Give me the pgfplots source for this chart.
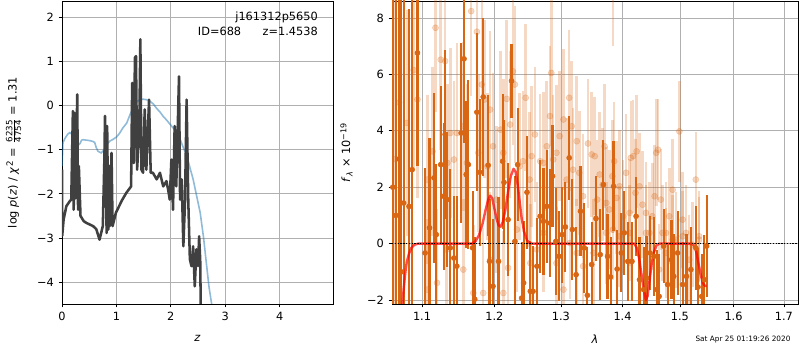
\documentclass[border=0pt]{standalone}
\usepackage{pgfplots}
\pgfplotsset{compat=1.18}
\usepackage{pgfplotstable}
\usepackage{fontspec}
\setmainfont{DejaVu Sans}
\definecolor{dorange}{RGB}{217,102,18}
\definecolor{gridgray}{RGB}{176,176,176}
\definecolor{mplblue}{RGB}{31,119,180}
\definecolor{dgray}{RGB}{64,64,64}

\pgfplotstableread{
z p
0.000 -1.45
0.004 -2.95
0.03 -2.58
0.08 -2.28
0.14 -2.17
0.17 -2.13
0.20 -0.12
0.215 -2.36
0.23 -0.16
0.25 -2.10
0.28 0.26
0.295 -2.36
0.31 -1.37
0.34 -2.50
0.40 -2.62
0.45 -2.66
0.57 -2.73
0.63 -2.80
0.69 -3.04
0.75 -2.73
0.78 -1.14
0.79 -0.23
0.82 -2.89
0.83 -0.46
0.85 -2.81
0.87 -1.37
0.88 -2.73
0.91 -1.07
0.93 -2.73
0.99 -2.43
1.10 -2.15
1.18 -1.98
1.27 -1.83
1.29 0.52
1.32 -1.30
1.34 1.09
1.36 1.13
1.38 -1.45
1.42 -0.54
1.44 1.51
1.46 -1.45
1.49 -1.52
1.52 -0.08
1.55 -1.45
1.60 0.14
1.63 -1.52
1.67 -1.52
1.74 -1.67
1.80 -1.52
1.86 -1.83
1.92 -1.71
1.95 -1.90
1.98 -2.13
2.01 -1.22
2.04 -2.36
2.07 -0.46
2.10 -1.83
2.15 0.67
2.17 -2.13
2.20 -1.67
2.23 -3.19
2.26 -2.20
2.29 0.14
2.32 -2.13
2.35 -3.49
2.38 -3.64
2.41 -3.19
2.44 -4.10
2.47 -3.26
2.50 -3.64
2.52 -2.96
2.54 -3.50
2.55 -4.60
}\pzdata

\pgfplotstableread{
z p
0.000 -1.37
0.018 -0.84
0.05 -0.75
0.08 -0.69
0.11 -0.64
0.14 -0.61
0.17 -0.63
0.20 -0.69
0.23 -0.80
0.26 -0.88
0.29 -0.90
0.33 -0.86
0.36 -0.78
0.39 -0.77
0.45 -0.78
0.51 -0.79
0.57 -0.81
0.60 -0.83
0.63 -0.95
0.66 -1.03
0.69 -1.05
0.72 -1.07
0.76 -1.02
0.79 -0.95
0.84 -0.85
0.88 -0.80
0.94 -0.76
1.00 -0.71
1.06 -0.62
1.12 -0.50
1.19 -0.39
1.25 -0.20
1.31 -0.04
1.37 0.09
1.43 0.14
1.49 0.15
1.55 0.14
1.61 0.11
1.68 0.04
1.74 -0.06
1.80 -0.14
1.86 -0.24
1.92 -0.32
1.98 -0.41
2.04 -0.50
2.10 -0.58
2.17 -0.76
2.23 -0.95
2.29 -1.12
2.35 -1.40
2.41 -1.67
2.47 -2.02
2.54 -2.43
2.60 -2.98
2.66 -3.65
2.70 -4.10
2.75 -4.50
2.77 -4.80
}\bluedata

\pgfplotstableread{
x y e
1.062 2.0 12
1.066 1.0 9
1.070 3.0 8
1.073 -1.0 10
1.076 1.44 8
1.083 1.32 7
1.087 2.62 8
1.094 6.76 4
1.104 -0.33 3.0
1.110 0.56 3.2
1.116 2.33 3.0
1.119 0.32 2.5
1.125 2.80 2.8
1.129 1.68 2.6
1.131 3.87 3.0
1.134 1.56 2.4
1.138 -0.15 2.8
1.143 -0.51 2.2
1.147 -0.80 2.5
1.153 3.92 3.2
1.157 6.55 3.0
1.160 2.45 2.6
1.163 2.80 3.0
1.169 -0.15 2.0
1.172 -1.97 2.2
1.175 4.66 2.8
1.179 2.53 2.6
1.184 5.20 2.8
1.191 2.78 2.5
1.193 -0.63 2.2
1.198 -1.51 2.4
1.206 -0.63 2.3
1.212 2.92 2.4
1.214 2.17 2.2
1.220 0.85 2.0
1.225 5.77 1.3
1.230 0.08 2.3
1.234 2.80 2.0
1.240 -1.93 2.0
1.243 -1.39 2.2
1.248 1.82 2.0
1.253 -1.69 1.8
1.257 -1.69 1.6
1.263 -0.80 1.7
1.268 0.97 2.0
1.273 0.79 1.9
1.278 1.32 2.0
1.283 0.73 1.9
1.287 2.39 1.8
1.292 0.08 1.9
1.297 -0.45 1.6
1.302 0.32 1.7
1.307 0.59 1.6
1.313 3.04 1.5
1.318 0.50 1.8
1.324 -1.10 1.7
1.331 1.15 1.6
1.337 -0.15 1.6
1.342 -1.83 1.7
1.349 -0.74 1.5
1.356 0.89 1.5
1.363 -0.39 1.6
1.368 2.09 1.6
1.375 -0.45 1.5
1.380 -1.18 1.4
1.385 2.03 1.6
1.391 -0.90 1.4
1.398 -0.33 1.4
1.403 0.38 1.5
1.409 -0.63 1.4
1.416 -0.63 1.4
1.423 0.97 1.4
1.429 -1.28 1.5
1.436 -1.63 1.5
1.441 -1.22 1.5
1.447 -0.33 1.3
1.454 -0.45 1.4
1.459 -1.63 1.4
1.463 -1.87 1.5
1.471 -0.09 1.3
1.478 -1.45 1.4
1.485 -0.57 1.4
1.489 -1.16 1.5
1.496 -0.33 1.5
1.505 -1.45 1.5
1.512 -1.16 1.5
1.520 -0.92 1.5
1.529 -0.15 1.5
1.533 -1.54 1.4
1.540 -1.87 1.5
1.545 -1.28 1.6
1.549 -0.09 1.8
}\darkdata

\pgfplotstableread{
x y e
1.065 3.0 6
1.070 5.0 5
1.080 4.28 4
1.089 6.15 3.5
1.094 5.11 3.5
1.107 2.27 3.0
1.114 3.27 3.0
1.118 7.65 3.0
1.125 6.52 3.2
1.131 6.47 3.0
1.134 2.86 2.8
1.138 3.92 3.0
1.143 2.98 2.8
1.147 3.92 3.2
1.156 4.16 3.0
1.161 2.86 2.8
1.167 8.24 3.0
1.175 7.51 3.0
1.177 3.22 2.8
1.182 5.64 3.0
1.186 5.11 2.8
1.190 2.74 2.6
1.194 4.75 2.8
1.198 3.45 2.6
1.203 1.56 2.6
1.209 4.04 2.8
1.213 3.22 2.6
1.218 5.13 2.8
1.223 4.22 2.6
1.227 6.11 2.6
1.230 5.64 2.8
1.237 2.74 2.6
1.242 2.92 2.5
1.246 5.17 2.6
1.252 2.27 2.4
1.255 3.10 2.5
1.260 3.87 2.4
1.263 -0.21 2.4
1.268 2.92 2.4
1.273 2.86 2.5
1.278 3.45 2.3
1.283 4.52 2.5
1.285 6.05 2.6
1.288 2.98 2.3
1.293 3.22 2.4
1.298 3.81 2.3
1.304 4.40 2.5
1.309 2.27 2.2
1.313 5.17 2.4
1.317 4.16 2.3
1.319 2.62 2.2
1.325 3.63 2.3
1.329 2.51 2.2
1.335 1.68 2.2
1.343 3.55 2.3
1.349 3.16 2.2
1.354 3.10 2.1
1.358 1.56 2.1
1.362 2.45 2.2
1.367 2.09 2.0
1.370 3.45 2.2
1.373 1.44 2.0
1.378 1.21 2.1
1.383 2.39 2.0
1.384 9.30 2.3
1.386 2.92 2.1
1.390 1.62 2.0
1.395 2.03 2.0
1.401 0.97 2.0
1.406 2.51 2.1
1.412 1.09 1.9
1.414 3.04 2.0
1.418 3.10 2.0
1.422 1.80 1.9
1.424 3.27 2.0
1.429 2.03 1.9
1.434 1.38 1.9
1.440 1.09 1.8
1.446 0.38 1.8
1.451 0.97 1.9
1.455 1.68 1.8
1.458 3.22 1.9
1.461 3.33 1.8
1.466 1.56 1.8
1.469 0.38 1.7
1.475 0.38 1.8
1.481 0.97 1.7
1.487 1.91 1.8
1.493 0.14 1.7
1.499 3.98 1.8
1.505 0.85 1.7
1.511 0.38 1.7
1.517 -0.57 1.6
1.529 2.27 1.7
1.535 0.26 1.6
1.107 -1.63 2.5
1.120 -1.39 2.6
1.133 -0.21 2.4
1.156 -0.92 2.5
1.170 -1.75 2.4
1.184 -1.75 2.3
1.194 -0.57 2.4
1.213 -1.75 2.2
1.220 -0.86 2.3
1.233 0.50 2.2
1.253 -0.69 2.1
1.273 0.38 2.1
1.293 -0.69 2.0
1.304 -1.63 2.0
1.314 0.02 2.0
1.325 -0.33 1.9
1.335 -0.80 1.9
1.352 -0.33 1.9
1.373 0.38 1.8
1.384 0.50 1.8
1.395 0.26 1.8
1.412 0.38 1.7
1.440 0.38 1.7
1.463 -0.92 1.6
1.475 -0.33 1.6
1.487 0.14 1.6
1.505 0.26 1.6
1.523 -0.04 1.5
1.535 0.14 1.5
}\lightdata

\pgfplotsset{
  mpl/.style={
    scale only axis,
    axis line style={black, line width=0.6pt},
    grid=major,
    grid style={gridgray, line width=0.6pt},
    tick align=outside,
    tick pos=left,
    major tick length=2.6pt,
    tick style={black, line width=0.6pt},
    /pgf/number format/assume math mode=true,
    font=\fontsize{8.5}{10}\selectfont,
    ticklabel style={font=\fontsize{8.5}{10}\selectfont},
    label style={font=\fontsize{8.5}{10}\selectfont},
  }
}

\begin{document}
\begin{tikzpicture}
\begin{axis}[mpl,
  at={(0pt,0pt)}, anchor=south west,
  width=203.25pt, height=227.25pt,
  xmin=0, xmax=4.98, ymin=-4.5, ymax=2.38,
  xtick={0,1,2,3,4},
  ytick={-4,-3,-2,-1,0,1,2},
  yticklabels={−4,−3,−2,−1,0,1,2},
  xlabel={\textit{z}},
  xlabel shift=4pt,
  ylabel shift=5pt,
  ylabel={log \textit{p}(\textit{z}) / \textit{χ}$^{\mbox{\fontsize{6.5}{7}\selectfont 2}}$ = $\frac{\mbox{\fontsize{6.5}{7}\selectfont 6235}}{\mbox{\fontsize{6.5}{7}\selectfont 4754}}$ = 1.31},
]
\addplot[mplblue, opacity=0.5, line width=1.2pt] table[x=z, y=p] {\bluedata};
\addplot[dgray, line width=1.9pt, line join=round] table[x=z, y=p] {\pzdata};
\node[anchor=north east, align=right, inner sep=0pt] at (rel axis cs:0.945,0.965)
  {j161312p5650\\[1pt]ID=688\hspace{1.9em}z=1.4538};
\end{axis}

\begin{axis}[mpl,
  at={(247.5pt,0pt)}, anchor=south west,
  width=304.5pt, height=227.25pt,
  xmode=log,
  xmin=1.061, xmax=1.729, ymin=-2.14, ymax=8.6,
  xtick={1.1,1.2,1.3,1.4,1.5,1.6,1.7},
  xticklabels={1.1,1.2,1.3,1.4,1.5,1.6,1.7},
  minor xtick={},
  ytick={-2,0,2,4,6,8},
  yticklabels={−2,0,2,4,6,8},
  xlabel={\textit{λ}},
  xlabel shift=4pt,
  ylabel shift=4pt,
  ylabel={\textit{f}$_{\mbox{\fontsize{6}{7}\selectfont\textit{λ}}}$ × 10$^{\mbox{\fontsize{6}{7}\selectfont −19}}$},
]
\addplot[only marks, mark=*, mark size=2.3pt, color=dorange, opacity=0.25,
  error bars/.cd, y dir=both, y explicit, error mark=none,
  error bar style={line width=1.9pt, dorange, opacity=0.25}]
  table[x=x, y=y, y error=e] {\lightdata};
\addplot[only marks, mark=*, mark size=1.9pt, color=dorange,
  error bars/.cd, y dir=both, y explicit, error mark=none,
  error bar style={line width=1.6pt, dorange}]
  table[x=x, y=y, y error=e] {\darkdata};
\addplot[red, opacity=0.7, line width=1.8pt, line join=round] coordinates {
(1.074,-2.3) (1.076,-1.6) (1.078,-1.05) (1.080,-0.65) (1.083,-0.35) (1.086,-0.15)
(1.090,-0.04) (1.095,0) (1.168,0) (1.173,0.08) (1.178,0.3) (1.183,0.7) (1.187,1.15)
(1.191,1.55) (1.194,1.7) (1.197,1.6) (1.200,1.25) (1.203,0.9) (1.206,0.65) (1.209,0.6)
(1.212,0.75) (1.216,1.2) (1.220,1.85) (1.224,2.4) (1.228,2.65) (1.231,2.55) (1.234,2.1)
(1.237,1.5) (1.240,0.9) (1.244,0.4) (1.248,0.12) (1.252,0.02) (1.256,0) (1.420,0)
(1.424,-0.15) (1.428,-0.5) (1.432,-1.05) (1.436,-1.6) (1.440,-2.0) (1.443,-1.85)
(1.446,-1.35) (1.450,-0.7) (1.454,-0.3) (1.458,-0.08) (1.463,0) (1.522,0)
(1.526,-0.08) (1.530,-0.3) (1.534,-0.7) (1.538,-1.1) (1.542,-1.4) (1.546,-1.5) (1.549,-1.5)
};
\addplot[black, densely dotted, line width=1.1pt] coordinates {(1.061,0) (1.729,0)};
\end{axis}

\node[font=\fontsize{5.5}{6}\selectfont] at (510.75pt,-27pt) {Sat Apr 25 01:19:26 2020};
\pgfresetboundingbox
\path[use as bounding box] (-46.5pt,-34.5pt) rectangle (553.5pt,228pt);
\end{tikzpicture}
\end{document}
